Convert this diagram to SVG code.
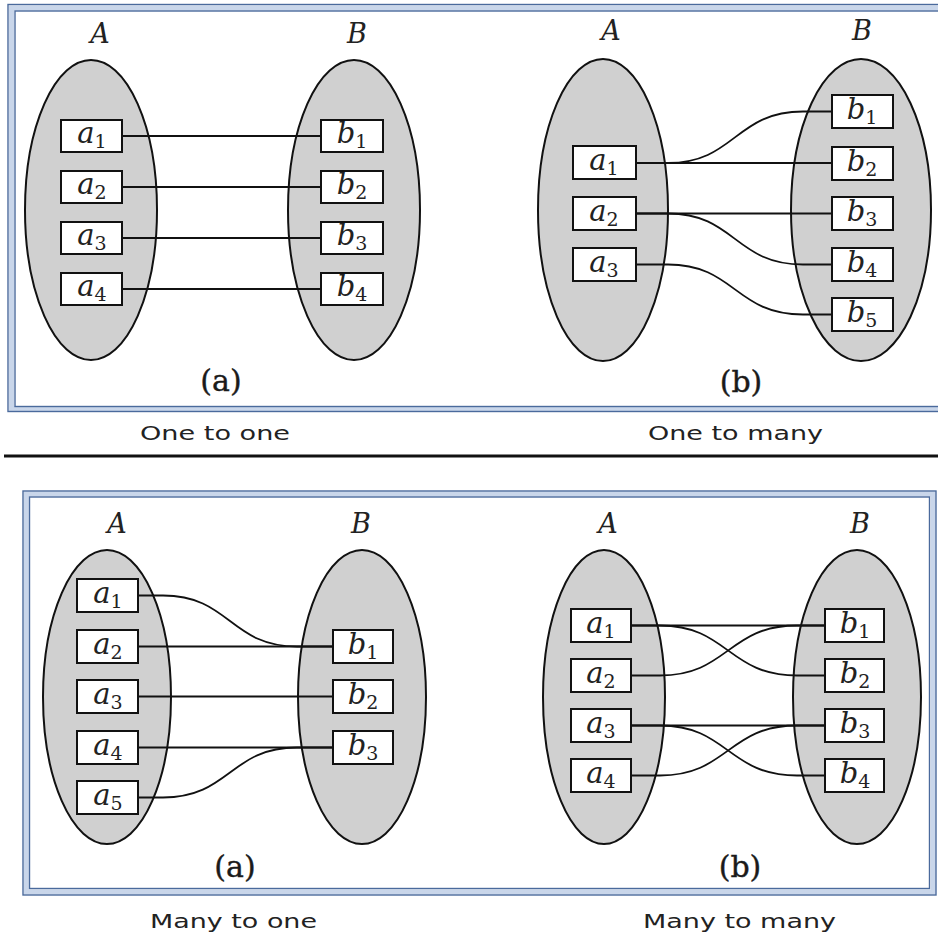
<svg xmlns="http://www.w3.org/2000/svg" width="938" height="937" viewBox="0 0 938 937">
<style>
.frameBand{fill:none;stroke:#c9d6ea;stroke-width:5}
.frameLine{fill:none;stroke:#4a6a9c;stroke-width:1.4}
.set{fill:#d0d0d0;stroke:#111;stroke-width:2}
.box{fill:#fff;stroke:#111;stroke-width:2}
.conn{fill:none;stroke:#111;stroke-width:1.8}
.setlbl{font-family:"DejaVu Serif",serif;font-style:italic;font-size:27px;fill:#222;text-anchor:middle}
.lbl{font-family:"DejaVu Serif",serif;font-style:italic;font-size:29px;fill:#222;text-anchor:middle}
.sub{font-style:normal;font-size:19px}
.part{font-family:"DejaVu Serif",serif;font-size:30px;fill:#1a1a1a;text-anchor:middle;stroke:#1a1a1a;stroke-width:0.4}
.cap{font-family:"DejaVu Sans",sans-serif;font-size:19px;fill:#222}
</style>

<!-- frames -->
<g id="frames">
  <rect class="frameBand" x="11.5" y="8" width="940" height="400.5"/>
  <rect class="frameLine" x="8" y="4.5" width="950" height="407"/>
  <rect class="frameLine" x="15" y="11" width="940" height="395.5"/>
  <rect class="frameBand" x="26.2" y="494" width="907" height="398"/>
  <rect class="frameLine" x="23" y="491" width="913" height="404"/>
  <rect class="frameLine" x="29.5" y="497" width="900" height="391.5"/>
  <line x1="4" y1="456" x2="938" y2="456" stroke="#111" stroke-width="3"/>
</g>

<!-- Panel 1: one to one -->
<g id="p1-setA"><ellipse class="set" cx="91" cy="210" rx="66" ry="150"/><text class="setlbl" x="100" y="43">A</text></g>
<g id="p1-setB"><ellipse class="set" cx="354" cy="210" rx="66" ry="150"/><text class="setlbl" x="357" y="43">B</text></g>

<!-- Panel 2: one to many -->
<g id="p2-setA"><ellipse class="set" cx="603" cy="210" rx="65" ry="151"/><text class="setlbl" x="611" y="40">A</text></g>
<g id="p2-setB"><ellipse class="set" cx="861" cy="210" rx="70" ry="151"/><text class="setlbl" x="862" y="40">B</text></g>

<!-- Panel 3: many to one -->
<g id="p3-setA"><ellipse class="set" cx="107" cy="697" rx="64" ry="147"/><text class="setlbl" x="117" y="533">A</text></g>
<g id="p3-setB"><ellipse class="set" cx="362" cy="697" rx="64" ry="147"/><text class="setlbl" x="361" y="533">B</text></g>

<!-- Panel 4: many to many -->
<g id="p4-setA"><ellipse class="set" cx="604" cy="697" rx="61" ry="147"/><text class="setlbl" x="608" y="533">A</text></g>
<g id="p4-setB"><ellipse class="set" cx="857" cy="697" rx="64" ry="147"/><text class="setlbl" x="860" y="533">B</text></g>

<!-- connectors -->
<g id="connectors">
  <!-- panel 1 -->
  <path class="conn" d="M122,136 H321"/>
  <path class="conn" d="M122,187 H321"/>
  <path class="conn" d="M122,238 H321"/>
  <path class="conn" d="M122,289 H321"/>
  <!-- panel 2 -->
  <path class="conn" d="M636,163 H832"/>
  <path class="conn" d="M636,163 H668 C735,163 735,111.5 803,111.5 H832"/>
  <path class="conn" d="M636,213.5 H832"/>
  <path class="conn" d="M636,213.5 H668 C735,213.5 735,264.5 803,264.5 H832"/>
  <path class="conn" d="M636,264.5 H668 C735,264.5 735,314.5 803,314.5 H832"/>
  <!-- panel 3 -->
  <path class="conn" d="M138,595.5 H163 C230,595.5 230,646.5 297,646.5 H333"/>
  <path class="conn" d="M138,646.5 H333"/>
  <path class="conn" d="M138,696.5 H333"/>
  <path class="conn" d="M138,747.5 H333"/>
  <path class="conn" d="M138,797.5 H163 C230,797.5 230,747.5 297,747.5 H333"/>
  <!-- panel 4 -->
  <path class="conn" d="M631,625.5 H825"/>
  <path class="conn" d="M631,625.5 H660 C728,625.5 728,675.5 797,675.5 H825"/>
  <path class="conn" d="M631,675.5 H660 C728,675.5 728,625.5 797,625.5 H825"/>
  <path class="conn" d="M631,725.5 H825"/>
  <path class="conn" d="M631,725.5 H660 C728,725.5 728,775.5 797,775.5 H825"/>
  <path class="conn" d="M631,775.5 H660 C728,775.5 728,725.5 797,725.5 H825"/>
</g>

<!-- Panel 1 boxes -->
<g id="p1-a1"><rect class="box" x="61" y="120" width="61" height="32"/><text class="lbl" x="92" y="143">a<tspan class="sub" dy="5">1</tspan></text></g>
<g id="p1-a2"><rect class="box" x="61" y="171" width="61" height="32"/><text class="lbl" x="92" y="194">a<tspan class="sub" dy="5">2</tspan></text></g>
<g id="p1-a3"><rect class="box" x="61" y="222" width="61" height="32"/><text class="lbl" x="92" y="245">a<tspan class="sub" dy="5">3</tspan></text></g>
<g id="p1-a4"><rect class="box" x="61" y="273" width="61" height="32"/><text class="lbl" x="92" y="296">a<tspan class="sub" dy="5">4</tspan></text></g>
<g id="p1-b1"><rect class="box" x="321" y="120" width="62" height="32"/><text class="lbl" x="352" y="143">b<tspan class="sub" dy="5">1</tspan></text></g>
<g id="p1-b2"><rect class="box" x="321" y="171" width="62" height="32"/><text class="lbl" x="352" y="194">b<tspan class="sub" dy="5">2</tspan></text></g>
<g id="p1-b3"><rect class="box" x="321" y="222" width="62" height="32"/><text class="lbl" x="352" y="245">b<tspan class="sub" dy="5">3</tspan></text></g>
<g id="p1-b4"><rect class="box" x="321" y="273" width="62" height="32"/><text class="lbl" x="352" y="296">b<tspan class="sub" dy="5">4</tspan></text></g>

<!-- Panel 2 boxes -->
<g id="p2-a1"><rect class="box" x="573" y="146" width="63" height="33"/><text class="lbl" x="604" y="170">a<tspan class="sub" dy="5">1</tspan></text></g>
<g id="p2-a2"><rect class="box" x="573" y="197" width="63" height="33"/><text class="lbl" x="604" y="221">a<tspan class="sub" dy="5">2</tspan></text></g>
<g id="p2-a3"><rect class="box" x="573" y="248" width="63" height="33"/><text class="lbl" x="604" y="272">a<tspan class="sub" dy="5">3</tspan></text></g>
<g id="p2-b1"><rect class="box" x="832" y="95" width="61" height="33"/><text class="lbl" x="862" y="119">b<tspan class="sub" dy="5">1</tspan></text></g>
<g id="p2-b2"><rect class="box" x="832" y="147" width="61" height="33"/><text class="lbl" x="862" y="171">b<tspan class="sub" dy="5">2</tspan></text></g>
<g id="p2-b3"><rect class="box" x="832" y="197" width="61" height="33"/><text class="lbl" x="862" y="221">b<tspan class="sub" dy="5">3</tspan></text></g>
<g id="p2-b4"><rect class="box" x="832" y="248" width="61" height="33"/><text class="lbl" x="862" y="272">b<tspan class="sub" dy="5">4</tspan></text></g>
<g id="p2-b5"><rect class="box" x="832" y="298" width="61" height="33"/><text class="lbl" x="862" y="322">b<tspan class="sub" dy="5">5</tspan></text></g>

<!-- Panel 3 boxes -->
<g id="p3-a1"><rect class="box" x="77" y="579" width="61" height="33"/><text class="lbl" x="108" y="603">a<tspan class="sub" dy="5">1</tspan></text></g>
<g id="p3-a2"><rect class="box" x="77" y="630" width="61" height="33"/><text class="lbl" x="108" y="654">a<tspan class="sub" dy="5">2</tspan></text></g>
<g id="p3-a3"><rect class="box" x="77" y="680" width="61" height="33"/><text class="lbl" x="108" y="704">a<tspan class="sub" dy="5">3</tspan></text></g>
<g id="p3-a4"><rect class="box" x="77" y="731" width="61" height="33"/><text class="lbl" x="108" y="755">a<tspan class="sub" dy="5">4</tspan></text></g>
<g id="p3-a5"><rect class="box" x="77" y="781" width="61" height="33"/><text class="lbl" x="108" y="805">a<tspan class="sub" dy="5">5</tspan></text></g>
<g id="p3-b1"><rect class="box" x="333" y="630" width="60" height="33"/><text class="lbl" x="363" y="654">b<tspan class="sub" dy="5">1</tspan></text></g>
<g id="p3-b2"><rect class="box" x="333" y="680" width="60" height="33"/><text class="lbl" x="363" y="704">b<tspan class="sub" dy="5">2</tspan></text></g>
<g id="p3-b3"><rect class="box" x="333" y="731" width="60" height="33"/><text class="lbl" x="363" y="755">b<tspan class="sub" dy="5">3</tspan></text></g>

<!-- Panel 4 boxes -->
<g id="p4-a1"><rect class="box" x="571" y="609" width="60" height="33"/><text class="lbl" x="601" y="633">a<tspan class="sub" dy="5">1</tspan></text></g>
<g id="p4-a2"><rect class="box" x="571" y="659" width="60" height="33"/><text class="lbl" x="601" y="683">a<tspan class="sub" dy="5">2</tspan></text></g>
<g id="p4-a3"><rect class="box" x="571" y="709" width="60" height="33"/><text class="lbl" x="601" y="733">a<tspan class="sub" dy="5">3</tspan></text></g>
<g id="p4-a4"><rect class="box" x="571" y="759" width="60" height="33"/><text class="lbl" x="601" y="783">a<tspan class="sub" dy="5">4</tspan></text></g>
<g id="p4-b1"><rect class="box" x="825" y="609" width="59" height="33"/><text class="lbl" x="855" y="633">b<tspan class="sub" dy="5">1</tspan></text></g>
<g id="p4-b2"><rect class="box" x="825" y="659" width="59" height="33"/><text class="lbl" x="855" y="683">b<tspan class="sub" dy="5">2</tspan></text></g>
<g id="p4-b3"><rect class="box" x="825" y="709" width="59" height="33"/><text class="lbl" x="855" y="733">b<tspan class="sub" dy="5">3</tspan></text></g>
<g id="p4-b4"><rect class="box" x="825" y="759" width="59" height="33"/><text class="lbl" x="855" y="783">b<tspan class="sub" dy="5">4</tspan></text></g>

<!-- part labels and captions -->
<g id="labels">
  <text class="part" x="221" y="391">(a)</text>
  <text class="part" x="741" y="392">(b)</text>
  <text class="part" x="235" y="877">(a)</text>
  <text class="part" x="740" y="877">(b)</text>
  <text class="cap" x="140" y="440" textLength="150" lengthAdjust="spacingAndGlyphs">One to one</text>
  <text class="cap" x="648" y="440" textLength="175" lengthAdjust="spacingAndGlyphs">One to many</text>
  <text class="cap" x="150" y="928" textLength="167" lengthAdjust="spacingAndGlyphs">Many to one</text>
  <text class="cap" x="643" y="928" textLength="193" lengthAdjust="spacingAndGlyphs">Many to many</text>
</g>
</svg>
